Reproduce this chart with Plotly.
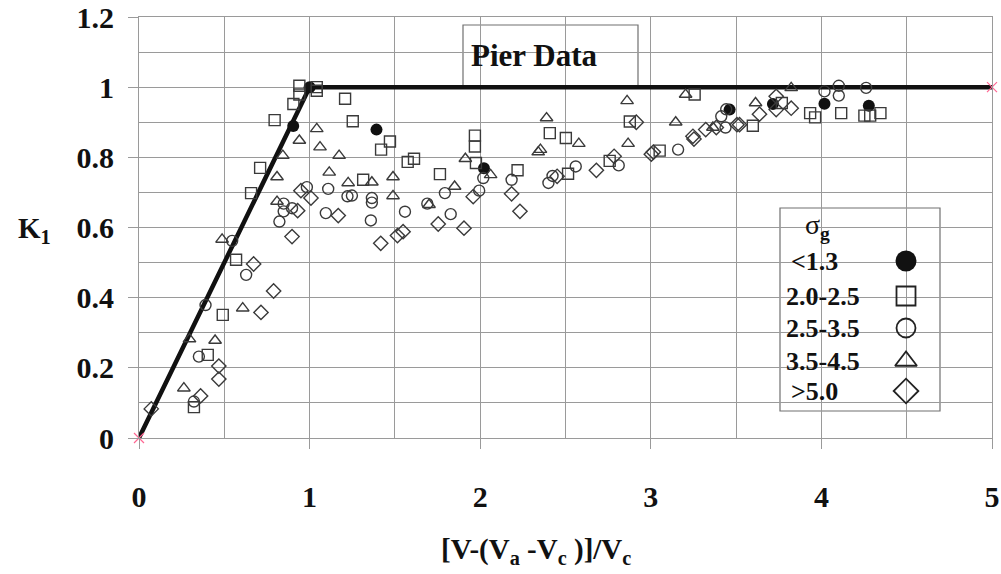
import plotly.graph_objects as go

# ---------------- data ----------------
env_x = [0, 1, 5]
env_y = [0, 1, 1]
end_x = [0, 5]
end_y = [0, 1]

x_lt13 = [0.904, 1.0, 1.392, 2.022, 3.462, 3.716, 4.018, 4.278]
y_lt13 = [0.889, 1.0, 0.879, 0.769, 0.936, 0.952, 0.953, 0.947]

x_20_25 = [0.322, 0.403, 0.491, 0.569, 0.657, 0.71, 0.795, 0.905, 0.94, 0.94, 1.042, 1.042,
           1.208, 1.253, 1.314, 1.419, 1.471, 1.575, 1.612, 1.764, 1.969, 1.969, 1.975,
           2.219, 2.408, 2.502, 2.515, 2.759, 2.877, 3.052, 3.257, 3.598, 3.768, 3.934,
           3.963, 4.116, 4.252, 4.286, 4.346]
y_20_25 = [0.088, 0.237, 0.351, 0.508, 0.698, 0.77, 0.906, 0.952, 1.004, 0.979, 1.0, 0.99,
           0.967, 0.903, 0.736, 0.822, 0.845, 0.787, 0.796, 0.752, 0.862, 0.831, 0.784,
           0.763, 0.869, 0.855, 0.753, 0.790, 0.902, 0.819, 0.979, 0.890, 0.955, 0.926,
           0.914, 0.926, 0.919, 0.919, 0.926]

x_25_35 = [0.322, 0.351, 0.39, 0.546, 0.628, 0.823, 0.848, 0.848, 0.897, 0.984, 1.095, 1.109,
           1.222, 1.248, 1.359, 1.365, 1.365, 1.559, 1.69, 1.793, 1.827, 1.994, 2.018,
           2.184, 2.4, 2.424, 2.56, 2.812, 3.16, 3.413, 3.438, 3.442, 4.018, 4.102, 4.102,
           4.262]
y_25_35 = [0.104, 0.232, 0.379, 0.562, 0.465, 0.617, 0.668, 0.646, 0.655, 0.715, 0.641, 0.710,
           0.689, 0.691, 0.62, 0.684, 0.671, 0.645, 0.668, 0.698, 0.638, 0.705, 0.741,
           0.736, 0.727, 0.747, 0.774, 0.777, 0.822, 0.917, 0.885, 0.937, 0.988, 0.976, 1.004,
           0.998]

x_35_45 = [0.263, 0.296, 0.446, 0.487, 0.608, 0.809, 0.809, 0.843, 0.94, 1.042, 1.061, 1.115,
           1.173, 1.226, 1.365, 1.489, 1.489, 1.7, 1.85, 1.913, 2.061, 2.34, 2.353, 2.389,
           2.578, 2.861, 2.867, 3.146, 3.204, 3.364, 3.614, 3.823]
y_35_45 = [0.142, 0.282, 0.278, 0.566, 0.37, 0.674, 0.744, 0.805, 0.848, 0.881, 0.829, 0.757,
           0.805, 0.727, 0.729, 0.744, 0.690, 0.665, 0.717, 0.796, 0.75, 0.815, 0.822, 0.912,
           0.839, 0.961, 0.839, 0.900, 0.979, 0.885, 0.955, 0.998]

x_gt50 = [0.072, 0.361, 0.468, 0.468, 0.672, 0.715, 0.789, 0.897, 0.93, 0.949, 1.008, 1.168,
          1.417, 1.515, 1.548, 1.754, 1.905, 1.959, 2.184, 2.233, 2.451, 2.681, 2.785, 2.915,
          3.003, 3.015, 3.247, 3.253, 3.322, 3.384, 3.505, 3.52, 3.637, 3.735, 3.735, 3.823]
y_gt50 = [0.083, 0.12, 0.205, 0.168, 0.496, 0.358, 0.419, 0.574, 0.648, 0.705, 0.684, 0.634,
          0.555, 0.577, 0.588, 0.61, 0.598, 0.688, 0.696, 0.646, 0.746, 0.763, 0.803, 0.900,
          0.809, 0.815, 0.86, 0.852, 0.879, 0.885, 0.893, 0.893, 0.923, 0.974, 0.936, 0.940]

legend_labels = ["<1.3", "2.0-2.5", "2.5-3.5", "3.5-4.5", ">5.0"]
x_ticks = [0, 1, 2, 3, 4, 5]
y_ticks = [0, 0.2, 0.4, 0.6, 0.8, 1, 1.2]
y_tick_text = ["0", "0.2", "0.4", "0.6", "0.8", "1", "1.2"]

# ---------------- styles ----------------
SERIF = "Liberation Serif, Times New Roman, serif"
MK_LINE = "#3a3a3a"
GRID = "#9a9a9a"

# plot-area pixel frame (used only to place boxes / annotations)
PL, PR, PT, PB = 139, 992, 17, 438
W, H = 1001, 574


def px(xp):
    return (xp - PL) / (PR - PL)


def py(yp):
    return (PB - yp) / (PB - PT)


series = [
    (x_lt13, y_lt13, "circle", True),
    (x_20_25, y_20_25, "square-open", False),
    (x_25_35, y_25_35, "circle-open", False),
    (x_35_45, y_35_45, "triangle-up-open", False),
    (x_gt50, y_gt50, "diamond-open", False),
]

fig = go.Figure()

# envelope line
fig.add_trace(go.Scatter(x=env_x, y=env_y, mode="lines",
                         line=dict(color="#111111", width=4.5), showlegend=False,
                         hoverinfo="skip"))

for xs, ys, sym, filled in series:
    if filled:
        mk = dict(symbol=sym, size=12, color="#111111", line=dict(width=0))
    else:
        mk = dict(symbol=sym, size=11, color=MK_LINE, line=dict(width=1.4, color=MK_LINE))
    fig.add_trace(go.Scatter(x=xs, y=ys, mode="markers", marker=mk, showlegend=False))

# envelope end markers
fig.add_trace(go.Scatter(x=end_x, y=end_y, mode="markers",
                         marker=dict(symbol="x-thin-open", size=10,
                                     line=dict(width=1.2, color="#a0524f")),
                         showlegend=False, cliponaxis=False))

# ---------------- legend (drawn manually, symbols right of text) ----------------
row_py = [261, 296, 328, 361, 391]
row_y = [py(p) for p in row_py]
sym_x = px(906)

fig.add_shape(type="rect", xref="paper", yref="paper", x0=px(780), x1=px(940),
              y0=py(411), y1=py(208),
              line=dict(color="#707070", width=1.2), fillcolor="white", layer="between")

for (xs, ys, sym, filled), ry in zip(series, row_y):
    if filled:
        mk = dict(symbol=sym, size=21, color="#111111", line=dict(width=0))
    else:
        mk = dict(symbol=sym, size=19, color="#222222", line=dict(width=1.8, color="#222222"))
    fig.add_trace(go.Scatter(x=[sym_x], y=[ry], xaxis="x2", yaxis="y2", mode="markers",
                             marker=mk, showlegend=False, hoverinfo="skip"))

label_px = [789, 784, 784, 784, 789]
for lab, lp, ry in zip(legend_labels, label_px, row_y):
    fig.add_annotation(xref="paper", yref="paper", x=px(lp), y=ry,
                       xanchor="left", yanchor="middle", showarrow=False,
                       text="<b>" + lab.replace("<", "&lt;").replace(">", "&gt;") + "</b>",
                       font=dict(family=SERIF, size=26, color="#111111"))

fig.add_annotation(xref="paper", yref="paper", x=px(803), y=py(226),
                   xanchor="left", yanchor="middle", showarrow=False,
                   text="σ<sub><b>g</b></sub>",
                   font=dict(family=SERIF, size=28, color="#111111"))

# ---------------- "Pier Data" box ----------------
fig.add_shape(type="rect", xref="paper", yref="paper",
              x0=px(463), x1=px(638), y0=py(87), y1=py(25),
              line=dict(color="#707070", width=1.2), fillcolor="white", layer="between")
fig.add_annotation(xref="paper", yref="paper", x=px(469), y=py(56),
                   xanchor="left", yanchor="middle", showarrow=False,
                   text="<b>Pier Data</b>", font=dict(family=SERIF, size=31, color="#111111"))

# ---------------- axis titles ----------------
fig.add_annotation(xref="paper", yref="paper", x=px(536), y=py(551),
                   xanchor="center", yanchor="middle", showarrow=False,
                   text="<b>[V-(V<sub>a</sub> -V<sub>c</sub> )]/V<sub>c</sub></b>",
                   font=dict(family=SERIF, size=29, color="#111111"))
fig.add_annotation(xref="paper", yref="paper", x=px(16), y=py(230),
                   xanchor="left", yanchor="middle", showarrow=False,
                   text="<b>K<sub>1</sub></b>",
                   font=dict(family=SERIF, size=29, color="#111111"))

tickfont = dict(family=SERIF, size=30, color="#111111", weight="bold")

fig.update_layout(
    width=W, height=H,
    margin=dict(l=PL, r=W - PR, t=PT, b=H - PB, autoexpand=False),
    paper_bgcolor="white", plot_bgcolor="white",
    showlegend=False,
    xaxis=dict(range=[0, 5], tickvals=x_ticks, ticktext=[str(v) for v in x_ticks],
               showgrid=True, gridcolor=GRID, gridwidth=1, automargin=False,
               showline=True, linecolor=GRID, linewidth=1, mirror=True,
               ticks="outside", ticklen=10, tickcolor=GRID, ticklabelstandoff=22,
               minor=dict(dtick=0.5, showgrid=True, gridcolor=GRID, gridwidth=1, ticks=""),
               zeroline=False, tickfont=tickfont),
    yaxis=dict(range=[0, 1.2], tickvals=y_ticks, ticktext=y_tick_text,
               showgrid=True, gridcolor=GRID, gridwidth=1, automargin=False,
               showline=True, linecolor=GRID, linewidth=1, mirror=True,
               ticks="outside", ticklen=10, tickcolor=GRID, ticklabelstandoff=8,
               minor=dict(dtick=0.1, showgrid=True, gridcolor=GRID, gridwidth=1, ticks=""),
               zeroline=False, tickfont=tickfont),
    xaxis2=dict(overlaying="x", range=[0, 1], visible=False, fixedrange=True),
    yaxis2=dict(overlaying="y", range=[0, 1], visible=False, fixedrange=True),
)

fig.write_html("out.html")
